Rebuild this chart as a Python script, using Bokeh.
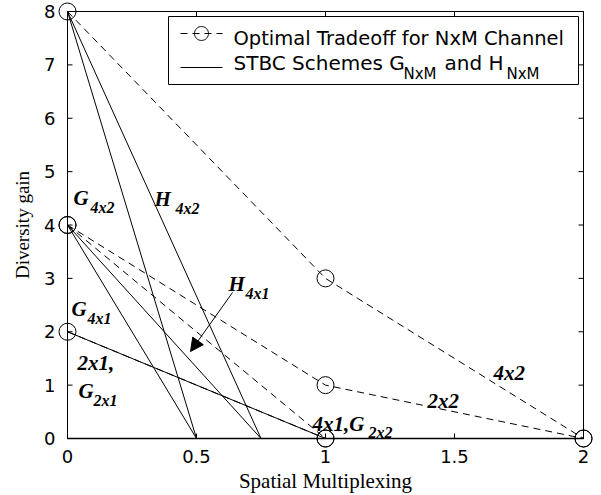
import math
from bokeh.plotting import figure
from bokeh.models import (Range1d, FixedTicker, Label, BoxAnnotation,
                          Arrow, NormalHead, PolyAnnotation)
from bokeh.embed import file_html
from bokeh.resources import INLINE

# ---------------- data ----------------
# optimal diversity-multiplexing tradeoff curves (dashed, circle markers)
opt_4x2_x = [0, 1, 2]
opt_4x2_y = [8, 3, 0]
opt_2x2_x = [0, 1, 2]
opt_2x2_y = [4, 1, 0]
opt_4x1_x = [0, 1]
opt_4x1_y = [4, 0]
opt_2x1_x = [0, 1]
opt_2x1_y = [2, 0]

# STBC schemes (solid)
g4x2_x = [0, 0.5]
g4x2_y = [8, 0]
h4x2_x = [0, 0.75]
h4x2_y = [8, 0]
g4x1_x = [0, 0.5]
g4x1_y = [4, 0]
h4x1_x = [0, 0.75]
h4x1_y = [4, 0]
g2x1_x = [0, 1]
g2x1_y = [2, 0]

x_ticks = [0, 0.5, 1, 1.5, 2]
x_tick_labels = ["0", "0.5", "1", "1.5", "2"]
y_ticks = [0, 1, 2, 3, 4, 5, 6, 7, 8]

# ---------------- layout ----------------
W, H = 601, 495
# data box (axes box) in pixels
DX0, DX1, DY0, DY1 = 67, 583, 11, 438
PAD = 10  # extra frame around the axes box so edge markers are not clipped
XU = (x_ticks[-1] - x_ticks[0]) / (DX1 - DX0)   # data units per pixel (x)
YU = (y_ticks[-1] - y_ticks[0]) / (DY1 - DY0)   # data units per pixel (y)


def fx(px):
    return x_ticks[0] + (px - DX0) * XU


def fy(py):
    return y_ticks[0] + (DY1 - py) * YU


p = figure(width=W, height=H,
           x_range=Range1d(fx(DX0 - PAD), fx(DX1 + PAD)),
           y_range=Range1d(fy(DY1 + PAD), fy(DY0 - PAD)),
           output_backend="svg", toolbar_location=None,
           min_border_left=DX0 - PAD, min_border_right=W - DX1 - PAD,
           min_border_top=DY0 - PAD, min_border_bottom=H - DY1 - PAD,
           background_fill_color="white", border_fill_color="white")
p.outline_line_color = None
p.xgrid.visible = False
p.ygrid.visible = False

p.xaxis.ticker = FixedTicker(ticks=x_ticks)
p.xaxis.major_label_overrides = {t: l for t, l in zip(x_ticks, x_tick_labels)}
p.yaxis.ticker = FixedTicker(ticks=y_ticks)
for ax in (p.xaxis[0], p.yaxis[0]):
    ax.major_tick_in = 0
    ax.major_tick_out = 0
    ax.minor_tick_line_color = None
    ax.axis_line_color = None
    ax.major_tick_line_color = None
    ax.major_label_text_color = "black"
    ax.major_label_text_font = "DejaVu Sans"
    ax.major_label_text_font_size = "18px"
    ax.axis_label_text_font = "Liberation Serif"
    ax.axis_label_text_font_style = "normal"
    ax.axis_label_text_color = "black"
p.xaxis.major_label_standoff = 1
p.yaxis.major_label_standoff = 2
p.xaxis.axis_label = "Spatial Multiplexing"
p.yaxis.axis_label = "Diversity gain"
p.xaxis.axis_label_text_font_size = "21px"
p.yaxis.axis_label_text_font_size = "19px"
p.xaxis.axis_label_standoff = 3
p.yaxis.axis_label_standoff = 8

# axes box and inward ticks on all four sides
p.add_layout(BoxAnnotation(left=x_ticks[0], right=x_ticks[-1], bottom=y_ticks[0],
                           top=y_ticks[-1], fill_alpha=0, fill_color=None,
                           line_color="black", line_alpha=1.0, line_width=1,
                           level="underlay"))
p.segment(x0=[x_ticks[0]], y0=[y_ticks[0]], x1=[x_ticks[-1]], y1=[y_ticks[0]],
          line_color="black", line_width=1.6)
TL = 5
p.segment(x0=[x_ticks[0]] * len(y_ticks), y0=y_ticks,
          x1=[x_ticks[0] + TL * XU] * len(y_ticks), y1=y_ticks,
          line_color="black", line_width=1)
p.segment(x0=[x_ticks[-1] - TL * XU] * len(y_ticks), y0=y_ticks,
          x1=[x_ticks[-1]] * len(y_ticks), y1=y_ticks,
          line_color="black", line_width=1)
p.segment(x0=x_ticks, y0=[y_ticks[0]] * len(x_ticks),
          x1=x_ticks, y1=[y_ticks[0] + TL * YU] * len(x_ticks),
          line_color="black", line_width=1)
p.segment(x0=x_ticks, y0=[y_ticks[-1] - TL * YU] * len(x_ticks),
          x1=x_ticks, y1=[y_ticks[-1]] * len(x_ticks),
          line_color="black", line_width=1)

dash = "7 5"
# optimal tradeoff curves
for xs, ys in ((opt_4x2_x, opt_4x2_y), (opt_2x2_x, opt_2x2_y),
               (opt_4x1_x, opt_4x1_y), (opt_2x1_x, opt_2x1_y)):
    p.line(xs, ys, line_color="black", line_width=1, line_dash=dash)
# STBC schemes
for xs, ys in ((g4x2_x, g4x2_y), (h4x2_x, h4x2_y), (g4x1_x, g4x1_y),
               (h4x1_x, h4x1_y), (g2x1_x, g2x1_y)):
    p.line(xs, ys, line_color="black", line_width=1)
# circle markers
for xs, ys in ((opt_4x2_x, opt_4x2_y), (opt_2x2_x, opt_2x2_y),
               (opt_4x1_x, opt_4x1_y), (opt_2x1_x, opt_2x1_y)):
    p.scatter(xs, ys, marker="circle", size=17, fill_color=None,
              line_color="black", line_width=1)

# ---------------- annotations ----------------
SERIF = "Liberation Serif"


def lab(text, px, py, size, style="bold italic", font=SERIF):
    p.add_layout(Label(x=fx(px), y=fy(py), text=text, text_font=font,
                       text_font_size=size, text_font_style=style,
                       text_color="black", text_align="left",
                       text_baseline="alphabetic"))


MAIN, SUB = "21px", "16px"
lab("G", 73, 197, MAIN); lab("4x2", 90, 207, SUB)
lab("H", 154, 198, MAIN); lab("4x2", 175, 208, SUB)
lab("G", 71, 308, MAIN); lab("4x1", 87, 318, SUB)
lab("H", 228, 283, MAIN); lab("4x1", 245, 293, SUB)
lab("2x1,", 77, 362, MAIN)
lab("G", 78, 390, MAIN); lab("2x1", 93, 400, SUB)
lab("4x1,G", 312, 423, MAIN); lab("2x2", 368, 432, SUB)
lab("2x2", 427, 400, MAIN)
lab("4x2", 493, 372, MAIN)

p.add_layout(Arrow(end=NormalHead(size=13, fill_color="black", line_color="black",
                                  line_width=1),
                   x_start=fx(232), y_start=fy(292), x_end=fx(190), y_end=fy(351),
                   line_color="black", line_width=1))

# manual legend (all annotations, drawn in order)
p.add_layout(BoxAnnotation(left=fx(168), right=fx(578), top=fy(16), bottom=fy(84),
                           fill_color="white", fill_alpha=1.0, line_color="black",
                           line_alpha=1.0, line_width=1))
p.add_layout(Arrow(end=None, x_start=fx(180), y_start=fy(33), x_end=fx(222),
                   y_end=fy(33), line_color="black", line_width=1, line_dash=dash))
n = 48
p.add_layout(PolyAnnotation(
    xs=[fx(201) + 7 * math.cos(2 * math.pi * k / n) * XU for k in range(n)],
    ys=[fy(33) + 7 * math.sin(2 * math.pi * k / n) * YU for k in range(n)],
    fill_color=None, fill_alpha=0, line_color="black", line_alpha=1.0, line_width=1))
p.add_layout(Arrow(end=None, x_start=fx(180), y_start=fy(67), x_end=fx(222),
                   y_end=fy(67), line_color="black", line_width=1))
LF = "DejaVu Sans"
lab("Optimal Tradeoff for NxM Channel", 233, 38, "19.5px", "normal", LF)
lab("STBC Schemes G", 233, 62, "20px", "normal", LF)
lab("NxM", 403, 73, "15px", "normal", LF)
lab("and H", 444, 62, "20px", "normal", LF)
lab("NxM", 506, 73, "15px", "normal", LF)

open("out.html", "w").write(file_html(p, INLINE))
